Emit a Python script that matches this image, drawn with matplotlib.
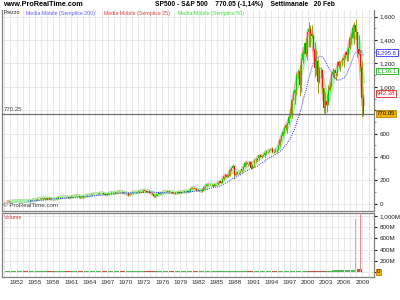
import matplotlib
matplotlib.use("Agg")
import matplotlib.pyplot as plt
import matplotlib.transforms as mtransforms
from matplotlib.ticker import FuncFormatter, MultipleLocator
import numpy as np
import pandas as pd

plt.rcParams["font.family"] = ["Liberation Sans", "DejaVu Sans"]

# ---- data: S&P 500, quarterly candles 1950 .. Feb 2009 ----
first_year = 1950
prev_close = 16.8  # end of 1949

closes = [
    17.3, 17.7, 19.5, 20.4,   21.5, 21.0, 23.3, 23.8,   24.4, 25.0, 24.5, 26.6,
    25.3, 24.1, 23.4, 24.8,   26.9, 29.2, 32.3, 36.0,   36.6, 41.0, 43.7, 45.5,
    48.5, 46.0, 45.4, 46.7,   44.1, 47.4, 42.4, 40.0,   42.1, 45.2, 50.1, 55.2,
    55.4, 58.5, 56.9, 59.9,   55.3, 56.9, 53.5, 58.1,   65.1, 64.6, 66.7, 71.6,
    69.6, 54.8, 56.3, 63.1,   66.6, 69.4, 71.7, 75.0,   79.0, 81.7, 84.2, 84.8,
    86.2, 84.1, 90.0, 92.4,   89.2, 84.7, 76.6, 80.3,   90.2, 90.6, 96.7, 96.5,
    90.2, 99.6, 102.7, 103.9, 101.5, 97.7, 93.1, 92.1,  89.6, 72.7, 84.2, 92.2,
    100.3, 99.7, 98.3, 102.1, 107.2, 107.1, 110.6, 118.1, 111.5, 104.3, 108.4, 97.6,
    94.0, 86.0, 63.5, 68.6,   83.4, 95.2, 83.9, 90.2,   102.8, 104.3, 105.2, 107.5,
    98.4, 100.5, 96.5, 95.1,  89.2, 95.5, 102.5, 96.1,  101.6, 102.9, 109.3, 107.9,
    102.1, 114.2, 125.5, 135.8, 136.0, 131.2, 116.2, 122.6, 112.0, 109.6, 120.4, 140.6,
    153.0, 168.1, 166.1, 164.9, 159.2, 153.2, 166.1, 167.2, 180.7, 191.9, 182.1, 211.3,
    238.9, 250.8, 231.3, 242.2, 291.7, 304.0, 321.8, 247.1, 258.9, 273.5, 271.9, 277.7,
    294.9, 318.0, 349.2, 353.4, 339.9, 358.0, 306.1, 330.2, 375.2, 371.2, 387.9, 417.1,
    403.7, 408.1, 417.8, 435.7, 451.7, 450.5, 458.9, 466.5, 445.8, 444.3, 462.7, 459.3,
    500.7, 544.8, 584.4, 615.9, 645.5, 670.6, 687.3, 740.7, 757.1, 885.1, 947.3, 970.4,
    1101.8, 1133.8, 1017.0, 1229.2, 1286.4, 1372.7, 1282.7, 1469.3,
    1498.6, 1454.6, 1436.5, 1320.3, 1160.3, 1224.4, 1040.9, 1148.1,
    1147.4, 989.8, 815.3, 879.8,  848.2, 974.5, 996.0, 1111.9,
    1126.2, 1140.8, 1114.6, 1211.9, 1180.6, 1191.3, 1228.8, 1248.3,
    1294.8, 1270.2, 1335.9, 1418.3, 1420.9, 1503.4, 1526.8, 1468.4,
    1322.7, 1280.0, 1166.4, 903.3, 770.05,
]
highs = [
    17.6, 19.4, 19.5, 20.6,   22.3, 22.0, 23.4, 24.0,   24.5, 25.0, 25.4, 26.6,
    26.6, 25.3, 24.8, 25.0,   27.0, 29.2, 32.7, 36.0,   37.5, 41.0, 45.6, 46.4,
    48.9, 49.6, 49.7, 47.6,   47.0, 48.0, 49.1, 42.6,   42.4, 45.3, 50.1, 55.2,
    56.4, 58.7, 60.7, 60.0,   60.4, 58.0, 58.0, 58.4,   65.1, 67.0, 68.5, 72.6,
    71.1, 69.6, 60.5, 63.1,   67.4, 71.0, 74.0, 75.0,   79.1, 81.7, 84.2, 86.3,
    87.6, 90.3, 90.0, 92.6,   94.1, 92.4, 87.0, 82.0,   90.3, 94.6, 97.6, 97.6,
    96.5, 101.7, 103.9, 108.4, 103.7, 106.2, 96.8, 98.3, 93.5, 90.2, 84.7, 92.2,
    101.3, 105.6, 101.4, 102.1, 108.1, 110.7, 110.6, 119.1, 120.2, 112.6, 110.6, 111.4,
    100.1, 96.2, 86.0, 75.2,  86.1, 95.6, 95.6, 91.4,   103.2, 104.4, 108.7, 107.8,
    107.8, 101.0, 101.3, 97.6, 95.1, 101.7, 107.0, 106.0, 102.4, 104.2, 110.0, 111.3,
    118.0, 116.0, 130.0, 141.0, 137.0, 138.1, 133.0, 126.0, 122.6, 119.0, 125.0, 143.0,
    154.0, 170.0, 172.7, 170.0, 169.5, 161.0, 167.5, 170.4, 183.0, 192.0, 193.0, 212.0,
    239.0, 252.0, 254.0, 255.0, 302.0, 305.0, 337.9, 328.0, 272.0, 274.0, 276.0, 283.7,
    300.0, 326.0, 354.0, 361.0, 344.0, 369.0, 369.8, 332.0, 381.0, 392.0, 396.0, 419.0,
    420.0, 419.0, 425.0, 441.0, 456.0, 454.0, 463.0, 471.0, 482.9, 452.0, 476.0, 473.0,
    503.0, 551.0, 586.0, 622.0, 664.0, 680.0, 690.0, 757.0, 817.0, 898.0, 961.0, 983.8,
    1115.0, 1150.0, 1190.0, 1244.0, 1317.0, 1375.0, 1420.0, 1473.0,
    1553.0, 1528.0, 1530.0, 1454.0, 1384.0, 1316.0, 1237.0, 1174.0,
    1173.0, 1151.0, 994.0, 954.0, 935.0, 1015.0, 1040.0, 1112.0,
    1163.0, 1147.0, 1131.0, 1217.0, 1229.0, 1217.0, 1246.0, 1275.0,
    1310.0, 1326.7, 1340.0, 1431.0, 1461.6, 1540.0, 1555.0, 1576.0,
    1471.8, 1440.0, 1313.0, 1220.0, 943.0,
]
lows = [
    16.6, 17.3, 16.7, 19.0,   20.7, 20.9, 21.0, 22.7,   23.1, 23.4, 24.1, 23.8,
    24.6, 22.9, 22.7, 23.5,   24.8, 26.9, 29.2, 31.7,   34.6, 36.3, 40.8, 41.0,
    43.1, 44.1, 44.7, 44.8,   43.3, 44.0, 42.0, 38.9,   40.3, 41.3, 45.0, 49.7,
    53.6, 54.4, 55.9, 56.2,   54.2, 54.9, 52.5, 52.3,   57.6, 64.4, 64.5, 66.7,
    68.0, 52.3, 55.3, 53.5,   62.7, 66.6, 69.0, 71.6,   75.0, 78.8, 81.4, 83.0,
    84.2, 81.6, 84.0, 89.5,   86.5, 84.0, 73.2, 74.5,   80.3, 88.9, 90.4, 91.5,
    87.7, 90.0, 97.0, 101.5,  95.1, 96.8, 89.5, 89.2,   84.3, 69.3, 72.2, 82.0,
    92.2, 98.3, 95.9, 90.2,   101.7, 104.0, 105.2, 105.4, 110.5, 100.0, 100.5, 92.2,
    89.5, 84.5, 62.3, 61.0,   68.6, 80.4, 82.1, 83.6,   90.2, 98.5, 102.2, 98.9,
    98.4, 97.0, 95.9, 90.7,   86.9, 89.2, 95.5, 92.5,   96.1, 98.8, 102.1, 99.9,
    98.2, 102.0, 114.0, 124.0, 128.0, 128.0, 112.8, 115.0, 107.3, 107.0, 102.2, 130.0,
    138.0, 151.0, 160.0, 159.0, 150.0, 147.8, 150.0, 160.0, 163.7, 176.0, 180.0, 179.0,
    203.5, 228.0, 228.0, 230.0, 242.0, 279.0, 303.0, 216.5, 242.6, 256.0, 256.0, 260.0,
    275.0, 292.0, 318.0, 331.0, 321.0, 329.0, 295.0, 294.5, 311.0, 361.0, 367.0, 375.0,
    400.0, 394.0, 409.0, 402.0, 429.0, 434.0, 444.0, 457.0, 438.0, 435.0, 443.0, 444.3,
    459.0, 497.0, 540.0, 577.0, 597.0, 630.0, 605.0, 684.0, 737.0, 733.0, 885.0, 855.0,
    927.0, 1075.0, 923.0, 959.0, 1205.0, 1281.0, 1268.0, 1233.0,
    1339.0, 1339.0, 1420.0, 1305.0, 1081.0, 1103.0, 944.8, 1037.0,
    1074.0, 947.0, 775.7, 768.6, 788.9, 847.0, 966.0, 995.0,
    1087.0, 1076.0, 1060.7, 1090.0, 1164.0, 1136.0, 1183.0, 1168.0,
    1245.0, 1219.0, 1224.5, 1327.0, 1363.0, 1416.0, 1370.0, 1406.0,
    1256.0, 1272.0, 1133.0, 741.0, 754.0,
]

# yearly volume (millions), nearly flat, then two spikes at the end
vol_years = list(range(1950, 2009))
volumes = [12] * 54 + [30, 35, 38, 40, 45]
spike_years = [2007.9, 2008.7]
spike_vol = [950, 1090]
spike_up = [True, False]

ma_names = ["Media Mobile (Semplice 200)", "Media Mobile (Semplice 25)", "Media Mobile (Semplice 50)"]
ma_last = ["1,295.6", "942.38", "1,136.1"]
ma_last_val = [1295.6, 942.38, 1136.1]
last_price = 770.05
cursor_level = 770.25

# ---- derived ----
n = len(closes)
x = first_year + (np.arange(n) + 0.5) / 4
closes = np.array(closes)
opens = np.r_[prev_close, closes[:-1]]
s = pd.Series(closes)
ma25 = s.rolling(2).mean()
ma50 = s.rolling(4).mean()
ma200 = s.rolling(16).mean()

blue, red, green = "#3030ff", "#e02020", "#10b010"
grid_c = "#e4e4e4"
frame_c = "#808080"

fig = plt.figure(figsize=(4, 3), dpi=100)
ax = fig.add_axes([0.005, 0.297, 0.93, 0.67])
axv = fig.add_axes([0.005, 0.077, 0.93, 0.213], sharex=ax)

# main panel
ax.plot(x, ma25, color="#f4a8a8", lw=2.6, zorder=2, solid_capstyle="butt")
ax.plot(x, ma50, color="#a8f0a8", lw=2.6, zorder=2, solid_capstyle="butt")
up = closes >= opens
ax.vlines(x, lows, highs, color="#a09a10", lw=0.7, zorder=3)
ax.bar(x, np.abs(closes - opens), bottom=np.minimum(opens, closes), width=0.16,
       color=np.where(up, "#00d000", "#ff1010"), zorder=4, linewidth=0)
ax.plot(x, ma200, color=blue, lw=0.7, ls=(0, (1, 1.2)), zorder=5)

ax.axhline(cursor_level, color="#707070", lw=0.9, zorder=6)
ax.text(0.004, cursor_level + 15, "770.25", transform=mtransforms.blended_transform_factory(ax.transAxes, ax.transData),
        fontsize=4.3, color="#404040", va="bottom", ha="left")

ax.set_xlim(1949.6, 2010.9)
ax.set_ylim(-60, 1658)
ax.yaxis.tick_right()
ax.yaxis.set_major_locator(MultipleLocator(200))
ax.yaxis.set_minor_locator(MultipleLocator(100))
ax.yaxis.set_major_formatter(FuncFormatter(lambda v, p: "" if v == 800 else f"{v:,.0f}"))
ax.set_xticks(range(1952, 2010, 3))
ax.set_xticks(range(1950, 2011), minor=True)
ax.grid(True, which="both", axis="x", color=grid_c, lw=0.6, zorder=0)
ax.grid(True, which="major", axis="y", color=grid_c, lw=0.6, zorder=0)
ax.tick_params(axis="x", which="both", length=0, labelbottom=False)
ax.tick_params(axis="y", which="major", length=2.5, labelsize=4.5, colors="#202020", pad=1.5)
ax.tick_params(axis="y", which="minor", length=1.5, color="#808080")
for side in ["left", "right", "bottom"]:
    ax.spines[side].set_color(frame_c)
    ax.spines[side].set_linewidth(0.9)
ax.spines["top"].set_visible(False)

# right-hand value boxes
tr = mtransforms.blended_transform_factory(ax.transAxes, ax.transData)
box_cols = [blue, red, green]
for lab, val, c in zip(ma_last, ma_last_val, box_cols):
    ax.text(1.008, val, lab, transform=tr, fontsize=4.3, color=c, va="center", ha="left",
            bbox=dict(boxstyle="square,pad=0.15", fc="white", ec=c, lw=0.6), clip_on=False)
ax.text(1.008, last_price, f"{last_price:.2f}", transform=tr, fontsize=4.3, color="black",
        va="center", ha="left", bbox=dict(boxstyle="square,pad=0.15", fc="#f0b400", ec="#c08000", lw=0.6),
        clip_on=False, zorder=10)

ax.text(0.004, 0.012, "© ProRealTime.com", transform=ax.transAxes, fontsize=4.4, color="#404040", va="bottom")

# volume panel
vol_up = np.r_[True, np.diff([closes[4 * i + 3] for i in range(len(vol_years))]) >= 0]
axv.bar(np.array(vol_years) + 0.5, volumes, width=0.9, color=np.where(vol_up, "#50b850", "#c85050"),
        linewidth=0, zorder=3)
axv.bar(spike_years, spike_vol, width=0.12, color=np.where(spike_up, "#80e080", "#e09090"), linewidth=0, zorder=3)
axv.set_ylim(-89, 1054)
axv.yaxis.tick_right()
axv.yaxis.set_major_locator(MultipleLocator(200))
axv.yaxis.set_major_formatter(FuncFormatter(lambda v, p: f"{v:,.0f}M" if v > 0 else ""))
axv.grid(True, which="both", axis="x", color=grid_c, lw=0.6, zorder=0)
axv.grid(True, which="major", axis="y", color=grid_c, lw=0.6, zorder=0)
axv.tick_params(axis="x", which="major", length=0, labelsize=4.6, colors="#303030", pad=2)
axv.tick_params(axis="x", which="minor", length=0)
axv.tick_params(axis="y", length=2.5, labelsize=4.5, colors="#202020", pad=1.5)
for side in ["left", "right", "bottom", "top"]:
    axv.spines[side].set_color(frame_c)
    axv.spines[side].set_linewidth(0.9)
axv.text(1.008, 0, "0", transform=mtransforms.blended_transform_factory(axv.transAxes, axv.transData),
         fontsize=4.3, va="center", ha="left", clip_on=False,
         bbox=dict(boxstyle="square,pad=0.15", fc="#f0b400", ec="#c08000", lw=0.6))
axv.text(0.004, 0.97, "Volume", transform=axv.transAxes, fontsize=4.0, color="#d04040", va="top")

# header
fig.text(3 / 400, 1 - 5 / 300, "www.ProRealTime.com", fontsize=5.2, fontweight="bold", va="center", ha="left")
fig.text(155 / 400, 1 - 5 / 300, "SP500 - S&P 500    770.05 (-1,14%)    Settimanale   20 Feb",
         fontsize=4.8, fontweight="bold", va="center", ha="left")
fig.text(4 / 400, 1 - 13 / 300, "Prezzo", fontsize=3.8, color="#202020", va="center")
for name, c, px in zip(ma_names, ["#6060ff", "#e04040", "#40e040"], [26, 104, 178]):
    fig.text(px / 400, 1 - 13 / 300, name, fontsize=3.8, color=c, va="center")

fig.savefig("out.png", dpi=100)
